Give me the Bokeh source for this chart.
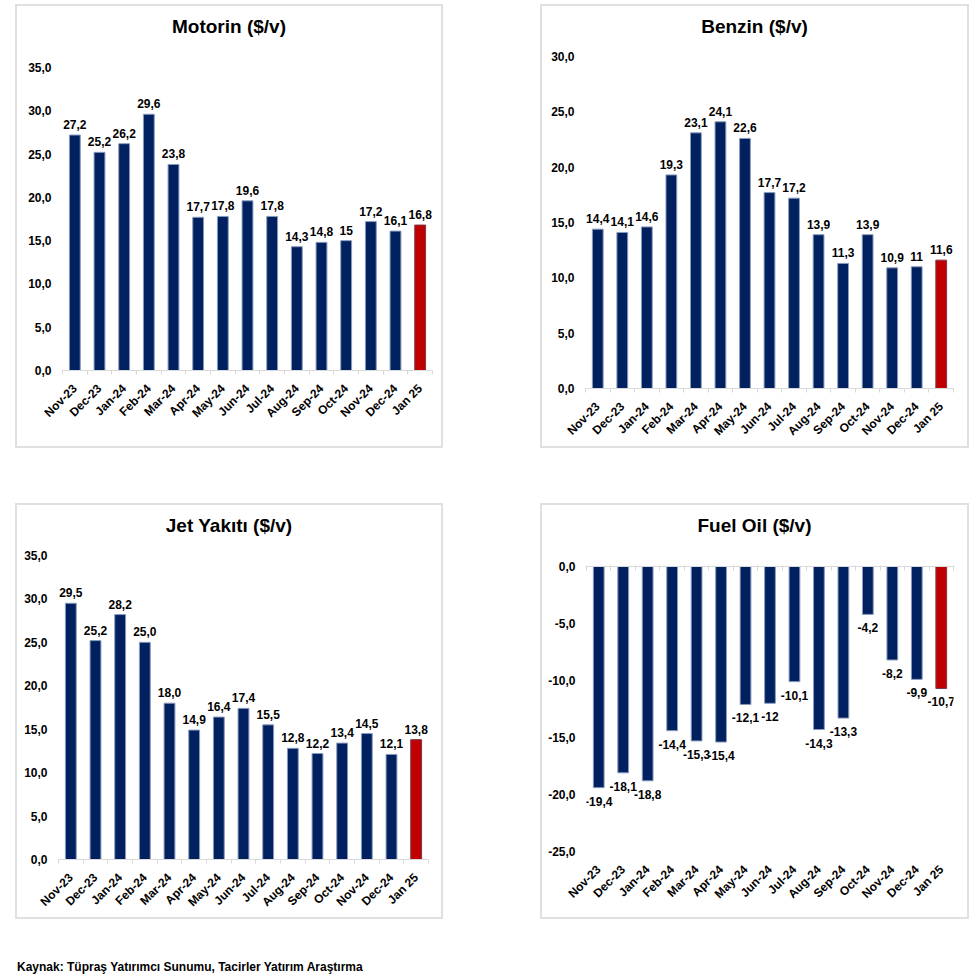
import math
from bokeh.plotting import figure
from bokeh.models import (ColumnDataSource, FixedTicker, LabelSet, Spacer, Div,
                          LinearAxis, Range1d)
from bokeh.layouts import row, column
from bokeh.core.properties import value
from bokeh.embed import file_html
from bokeh.resources import INLINE

months = ["Nov-23", "Dec-23", "Jan-24", "Feb-24", "Mar-24", "Apr-24", "May-24",
          "Jun-24", "Jul-24", "Aug-24", "Sep-24", "Oct-24", "Nov-24", "Dec-24", "Jan 25"]

motorin = [27.2, 25.2, 26.2, 29.6, 23.8, 17.7, 17.8, 19.6, 17.8, 14.3, 14.8, 15.0, 17.2, 16.1, 16.8]
motorin_labels = ["27,2", "25,2", "26,2", "29,6", "23,8", "17,7", "17,8", "19,6", "17,8",
                  "14,3", "14,8", "15", "17,2", "16,1", "16,8"]

benzin = [14.4, 14.1, 14.6, 19.3, 23.1, 24.1, 22.6, 17.7, 17.2, 13.9, 11.3, 13.9, 10.9, 11.0, 11.6]
benzin_labels = ["14,4", "14,1", "14,6", "19,3", "23,1", "24,1", "22,6", "17,7", "17,2",
                 "13,9", "11,3", "13,9", "10,9", "11", "11,6"]

jet = [29.5, 25.2, 28.2, 25.0, 18.0, 14.9, 16.4, 17.4, 15.5, 12.8, 12.2, 13.4, 14.5, 12.1, 13.8]
jet_labels = ["29,5", "25,2", "28,2", "25,0", "18,0", "14,9", "16,4", "17,4", "15,5",
              "12,8", "12,2", "13,4", "14,5", "12,1", "13,8"]

fuel = [-19.4, -18.1, -18.8, -14.4, -15.3, -15.4, -12.1, -12.0, -10.1, -14.3, -13.3, -4.2, -8.2, -9.9, -10.7]
fuel_labels = ["-19,4", "-18,1", "-18,8", "-14,4", "-15,3", "-15,4", "-12,1", "-12", "-10,1",
               "-14,3", "-13,3", "-4,2", "-8,2", "-9,9", "-10,7"]

ticks_35 = [0, 5, 10, 15, 20, 25, 30, 35]
ticks_30 = [0, 5, 10, 15, 20, 25, 30]
ticks_fuel = [0, -5, -10, -15, -20, -25]

source_note = "Kaynak: Tüpraş Yatırımcı Sunumu, Tacirler Yatırım Araştırma"

NAVY = "#002060"
RED = "#C00000"
GRID = "#d9d9d9"
EDGE = "#e0e0e0"
FONT = "Liberation Sans"
TITLE_H = 34
B = 2


def edge(w, h):
    return Div(text="", width=w, height=h, margin=0,
               styles={"background-color": EDGE, "overflow": "hidden"})


def make_panel(title, vals, labels, yr, yticks, w, h, bl, br, bt, bb, negative=False):
    n = len(vals)
    xs = list(range(n))
    iw = w - 2 * B
    fh = h - 2 * B - TITLE_H
    p = figure(width=iw, height=fh, output_backend="svg", toolbar_location=None,
               x_range=Range1d(-0.5, n - 0.5), y_range=Range1d(*yr),
               min_border_left=bl, min_border_right=br, min_border_top=bt, min_border_bottom=bb,
               background_fill_color="white", border_fill_color="white")
    p.outline_line_color = None
    p.xgrid.visible = False
    p.ygrid.visible = False

    colors = [NAVY] * (n - 1) + [RED]
    lcolors = ["#8a9bbd"] * (n - 1) + ["#7a3a4a"]
    src = ColumnDataSource(dict(x=xs, top=vals, color=colors, lc=lcolors, lab=labels))
    p.vbar(x="x", top="top", bottom=0, width=0.44, fill_color="color", line_color="lc",
           line_width=1, source=src)

    if negative:
        ls = LabelSet(x="x", y="top", text="lab", source=src, text_align="center",
                      text_baseline="top", y_offset=-9,
                      text_font=value(FONT), text_font_style="bold", text_font_size="12px",
                      text_color="black")
    else:
        ls = LabelSet(x="x", y="top", text="lab", source=src, text_align="center",
                      text_baseline="bottom", y_offset=6,
                      text_font=value(FONT), text_font_style="bold", text_font_size="12px",
                      text_color="black")
    p.add_layout(ls)

    # y axis
    ya = p.yaxis[0]
    ya.ticker = FixedTicker(ticks=yticks)
    ya.major_label_overrides = {t: f"{t:.1f}".replace(".", ",") for t in yticks}
    ya.axis_line_color = None
    ya.major_tick_line_color = None
    ya.minor_tick_line_color = None
    ya.major_label_standoff = 5
    ya.major_label_text_font = FONT
    ya.major_label_text_font_style = "bold"
    ya.major_label_text_font_size = "12px"
    ya.major_label_text_color = "black"

    # x axis
    bounds = [i - 0.5 for i in range(n + 1)]
    xa = p.xaxis[0]
    xa.ticker = FixedTicker(ticks=xs, minor_ticks=[] if negative else bounds)
    xa.major_label_overrides = {i: months[i] for i in xs}
    xa.major_tick_line_color = None
    xa.minor_tick_line_color = None if negative else GRID
    xa.minor_tick_out = 4
    xa.minor_tick_in = 0
    xa.axis_line_color = None if negative else GRID
    xa.major_label_orientation = math.pi / 4
    xa.major_label_standoff = 10
    xa.major_label_text_font = FONT
    xa.major_label_text_font_style = "bold"
    xa.major_label_text_font_size = "12px"
    xa.major_label_text_color = "black"

    if negative:
        za = LinearAxis(ticker=FixedTicker(ticks=[], minor_ticks=bounds))
        za.axis_line_color = GRID
        za.major_tick_line_color = None
        za.minor_tick_line_color = GRID
        za.minor_tick_in = 4
        za.minor_tick_out = 1
        za.major_label_text_font_size = "0px"
        p.add_layout(za, "above")

    head = Div(text=f'<div style="width:{iw}px;height:{TITLE_H}px;overflow:hidden;">'
                    f'<div style="position:relative;top:4px;width:{iw}px;text-align:center;'
                    f'font-family:\'Liberation Sans\';font-weight:bold;font-size:19px;'
                    f'line-height:{TITLE_H}px;color:#000;white-space:nowrap;">{title}</div></div>',
               width=iw, height=TITLE_H, margin=0,
               styles={"overflow": "hidden", "background-color": "white"})
    inner = column(edge(iw, B), head, p, edge(iw, B), width=iw, height=h)
    return row(edge(B, h), inner, edge(B, h), width=w, height=h)


p1 = make_panel("Motorin ($/v)", motorin, motorin_labels, (0, 35), ticks_35,
                428, 444, 45, 9, 27, 76)
p2 = make_panel("Benzin ($/v)", benzin, benzin_labels, (0, 30), ticks_30,
                429, 444, 43, 14, 16, 56)
p3 = make_panel("Jet Yakıtı ($/v)", jet, jet_labels, (0, 35), ticks_35,
                428, 416, 41, 13, 16, 55)
p4 = make_panel("Fuel Oil ($/v)", fuel, fuel_labels, (-25, 0), ticks_fuel,
                429, 416, 44, 14, 27, 66, negative=True)

foot = Div(text=f'<span style="font-family:\'Liberation Sans\';font-weight:bold;font-size:12px;'
                f'line-height:14px;color:#000;white-space:nowrap;">{source_note}</span>',
           width=600, height=14, margin=0,
           styles={"padding-left": "17px", "line-height": "14px"})

layout = column(
    Spacer(width=10, height=4),
    row(Spacer(width=15, height=444), p1, Spacer(width=97, height=444), p2),
    Spacer(width=10, height=55),
    row(Spacer(width=15, height=416), p3, Spacer(width=97, height=416), p4),
    Spacer(width=10, height=41),
    foot,
)

open("out.html", "w").write(file_html(layout, INLINE))
